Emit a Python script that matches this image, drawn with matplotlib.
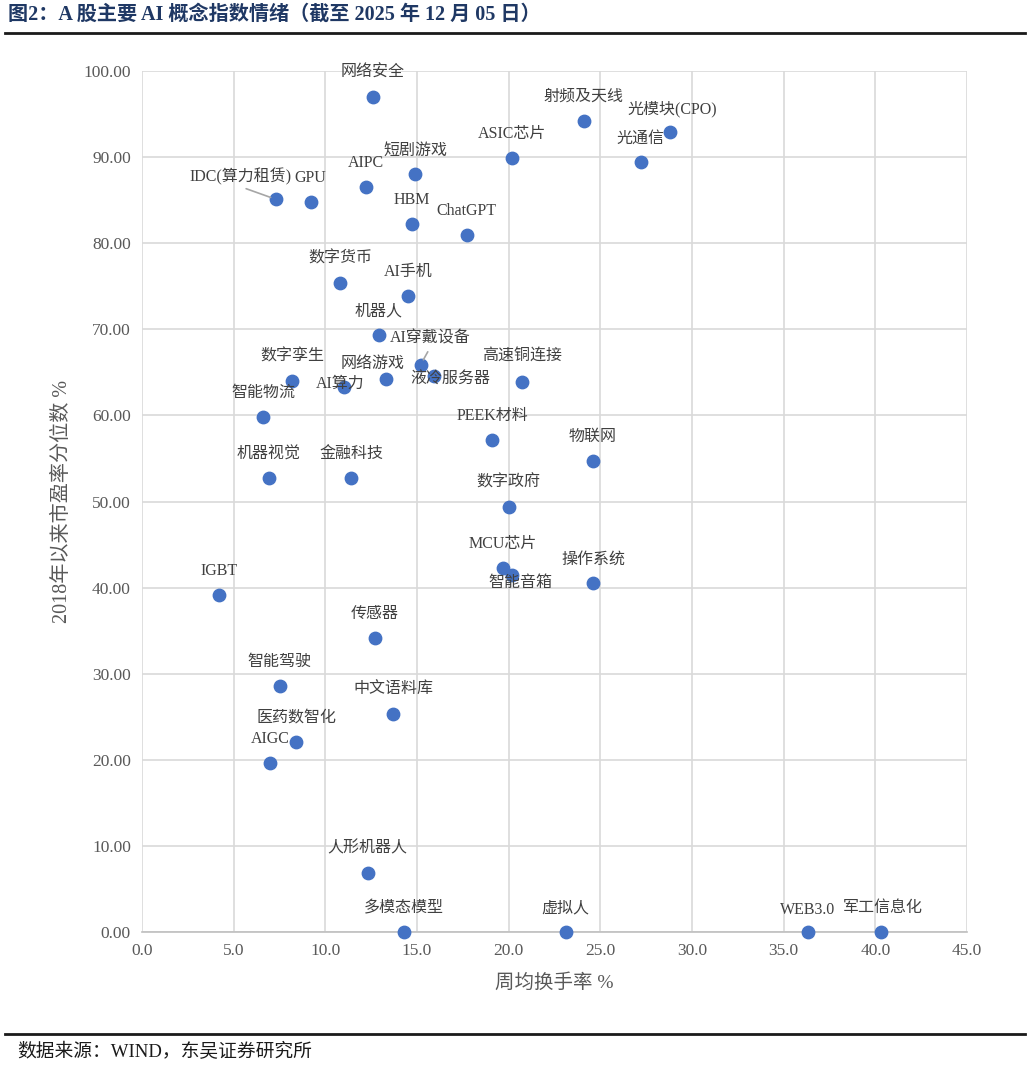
import matplotlib
matplotlib.use("Agg")
import matplotlib.pyplot as plt

# 概念指数：周均换手率(%) 与 2018年以来市盈率分位数(%)
names = [
    "网络安全", "射频及天线", "光模块(CPO)", "ASIC芯片", "光通信", "短剧游戏",
    "AIPC", "IDC(算力租赁)", "GPU", "HBM", "ChatGPT", "数字货币", "AI手机",
    "机器人", "AI穿戴设备", "液冷服务器", "网络游戏", "数字孪生", "AI算力",
    "高速铜连接", "智能物流", "PEEK材料", "物联网", "机器视觉", "金融科技",
    "数字政府", "MCU芯片", "智能音箱", "操作系统", "IGBT", "传感器", "智能驾驶",
    "中文语料库", "医药数智化", "AIGC", "人形机器人", "多模态模型", "虚拟人",
    "WEB3.0", "军工信息化",
]
turnover = [
    12.6, 24.1, 28.8, 20.2, 27.2, 14.9,
    12.2, 7.3, 9.2, 14.7, 17.7, 10.8, 14.5,
    12.9, 15.2, 15.9, 13.3, 8.2, 11.0,
    20.7, 6.6, 19.1, 24.6, 6.9, 11.4,
    20.0, 19.7, 20.2, 24.6, 4.2, 12.7, 7.5,
    13.7, 8.4, 7.0, 12.3, 14.3, 23.1,
    36.3, 40.3,
]
pe_pct = [
    97.0, 94.2, 92.9, 89.9, 89.4, 88.0,
    86.5, 85.1, 84.8, 82.2, 81.0, 75.4, 73.9,
    69.3, 65.9, 64.6, 64.2, 64.0, 63.3,
    63.9, 59.8, 57.1, 54.7, 52.7, 52.7,
    49.4, 42.3, 41.5, 40.5, 39.1, 34.1, 28.6,
    25.3, 22.1, 19.6, 6.9, 0.0, 0.0,
    0.0, 0.0,
]

# 标签偏移（像素），默认在点的正上方
DEFAULT_OFFSET = (0, 24)
label_offsets = {
    "光模块(CPO)": (2, 23),
    "IDC(算力租赁)": (-35, 23),
    "AI穿戴设备": (10, 26),
    "液冷服务器": (17, -4),
    "网络游戏": (-13, 15),
    "AI算力": (-3, 3),
    "智能音箱": (8, -8),
    "高速铜连接": (1, 25),
    "WEB3.0": (0, 22),
    "军工信息化": (2, 24),
}
# 引导线的起点（文字框内的相对位置）
leader_lines = {"IDC(算力租赁)": (0.45, 0.0), "AI穿戴设备": (0.5, 0.0)}

SERIF_CJK = ["Liberation Serif", "Noto Sans CJK SC"]
TEXT_GRAY = "#595959"
plt.rcParams["font.family"] = SERIF_CJK

fig = plt.figure(figsize=(10.31, 10.67), dpi=100)
ax = fig.add_axes([142 / 1031, 1 - 932 / 1067, 825 / 1031, 861 / 1067])

ax.scatter(turnover, pe_pct, s=80, color="#4472C4", zorder=3, clip_on=False)

for name, x, y in zip(names, turnover, pe_pct):
    dx, dy = label_offsets.get(name, DEFAULT_OFFSET)
    arrow = None
    if name in leader_lines:
        arrow = dict(arrowstyle="-", color="#A6A6A6", lw=1.2,
                     shrinkA=2, shrinkB=4, relpos=leader_lines[name])
    ax.annotate(name, (x, y), xytext=(dx, dy), textcoords="offset pixels",
                ha="center", va="center", fontsize=11.5, color="#404040",
                arrowprops=arrow, zorder=4)

ax.set_xlim(0, 45)
ax.set_ylim(0, 100)
ax.set_xticks([i * 5 for i in range(10)])
ax.set_yticks([i * 10 for i in range(11)])
ax.set_xticklabels([f"{i * 5:.1f}" for i in range(10)])
ax.set_yticklabels([f"{i * 10:.2f}" for i in range(11)])
ax.tick_params(length=0, labelsize=12.5, labelcolor=TEXT_GRAY, pad=8)
ax.grid(True, color="#D9D9D9", lw=1.2)
ax.set_axisbelow(True)
for side in ("top", "right", "left"):
    ax.spines[side].set_visible(False)
ax.spines["bottom"].set_color("#BFBFBF")
ax.spines["bottom"].set_linewidth(1.2)

ax.set_xlabel("周均换手率 %", fontsize=14, color=TEXT_GRAY, labelpad=10)
ax.set_ylabel("2018年以来市盈率分位数 %", fontsize=14.5, color=TEXT_GRAY, labelpad=8)

# 标题与来源
fig.text(8 / 1031, 1 - 15 / 1067,
         "图2：A 股主要 AI 概念指数情绪（截至 2025 年 12 月 05 日）",
         fontsize=14.5, fontweight="bold", color="#1F3864", va="center", ha="left")
fig.add_artist(plt.Line2D([5 / 1031, 1025 / 1031], [1 - 33 / 1067] * 2,
                          color="#1A1A1A", lw=2))
fig.add_artist(plt.Line2D([5 / 1031, 1025 / 1031], [1 - 1034 / 1067] * 2,
                          color="#1A1A1A", lw=2))
fig.text(17 / 1031, 1 - 1052 / 1067, "数据来源：WIND，东吴证券研究所",
         fontsize=13.5, color="#1A1A1A", va="center", ha="left")

fig.savefig("out.png", dpi=100)
